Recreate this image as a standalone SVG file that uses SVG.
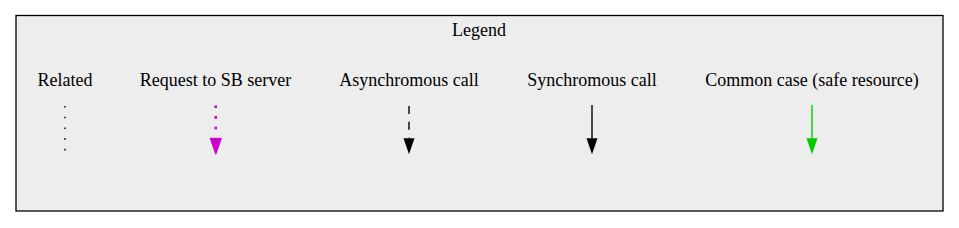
<svg xmlns="http://www.w3.org/2000/svg" width="959" height="228" viewBox="0 0 959 228">
<style>
text{font-family:"Liberation Serif","Times New Roman",serif;font-size:18px;fill:#000;text-anchor:middle}
.e{fill:none;stroke-width:1.4}
.m{stroke:#cc00cc;stroke-width:2.6;stroke-dasharray:2.6,8}
</style>
<rect width="959" height="228" fill="#fff"/>
<g id="legend">
<rect x="16" y="15.5" width="927" height="195.5" fill="#ededed" stroke="#000" stroke-width="1.3"/>
<text x="479" y="35.5">Legend</text>
</g>
<g id="related"><text x="65" y="86">Related</text></g>
<g id="request"><text x="215.5" y="86">Request to SB server</text></g>
<g id="async"><text x="409" y="86">Asynchromous call</text></g>
<g id="sync"><text x="592" y="86">Synchromous call</text></g>
<g id="common"><text x="812" y="86">Common case (safe resource)</text></g>
<g id="connectors">
<line class="e" x1="65" y1="106" x2="65" y2="152" stroke="#000" stroke-dasharray="1.6,9.1"/>
<line class="m" x1="215.7" y1="105.5" x2="215.7" y2="132" fill="none"/>
<path d="M210.2,138.3 L221.4,138.3 L215.8,154.3 Z" fill="#cc00cc" stroke="#cc00cc" stroke-width="1"/>
<line class="e" x1="409" y1="106" x2="409" y2="138" stroke="#000" stroke-dasharray="8,7.7"/>
<path d="M403.5,138.3 L414.5,138.3 L409,154.3 Z" fill="#000"/>
<line class="e" x1="592" y1="105" x2="592" y2="139" stroke="#000"/>
<path d="M586.5,138.3 L597.5,138.3 L592,154.3 Z" fill="#000"/>
<line class="e" x1="812" y1="105" x2="812" y2="139" stroke="#00cc00"/>
<path d="M806.5,138.3 L817.5,138.3 L812,154.3 Z" fill="#00cc00"/>
</g>
</svg>
